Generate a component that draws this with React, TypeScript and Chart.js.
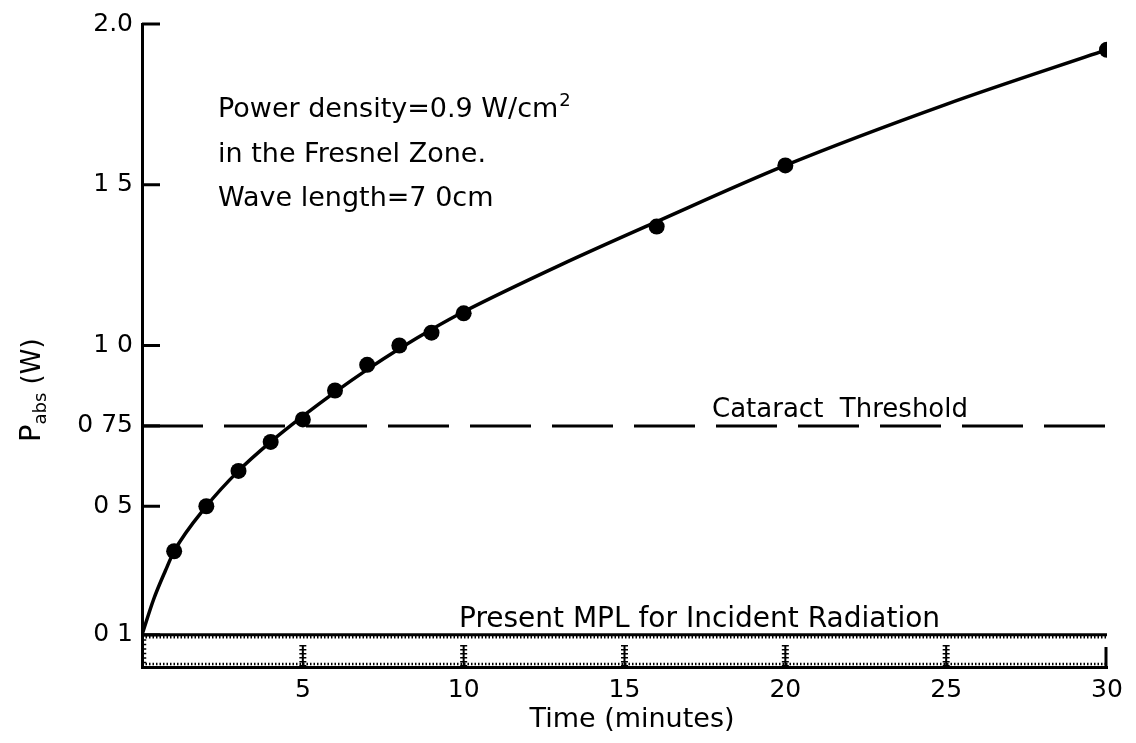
import React, { useEffect, useRef } from "react";
import { Chart, registerables } from "chart.js";

Chart.register(...registerables);

const TIME_MIN = [1, 2, 3, 4, 5, 6, 7, 8, 9, 10, 16, 20, 30];
const P_ABS_W = [0.36, 0.5, 0.61, 0.7, 0.77, 0.86, 0.94, 1.0, 1.04, 1.1, 1.37, 1.56, 1.92];
// ---- the drawn smooth curve at these times ----
const CURVE_TIME = [0, 0.36, 0.73, 1, 2, 3, 4, 5, 6, 7, 8, 9, 10, 13, 16, 20, 25, 30];
const CURVE_P = [0.1, 0.21, 0.3, 0.36, 0.5, 0.61, 0.7, 0.78, 0.855, 0.925, 0.99, 1.05, 1.105, 1.25, 1.385, 1.56, 1.75, 1.92];
const CATARACT_THRESHOLD = 0.75;
const PRESENT_MPL = 0.1;
const X_MIN = 0;
const X_MAX = 30;
const Y_MIN = 0;
const Y_MAX = 2.0;
const Y_TICKS = [0.1, 0.5, 0.75, 1.0, 1.5, 2.0];
const Y_TICK_LABELS = ["0 1", "0 5", "0 75", "1 0", "1 5", "2.0"];
const X_TICKS = [5, 10, 15, 20, 25, 30];
const X_TICK_LABELS = ["5", "10", "15", "20", "25", "30"];
const NOTE_LINES = ["Power density=0.9 W/cm", "in the Fresnel Zone.", "Wave length=7 0cm"];
const NOTE_SUP = "2";
const THRESHOLD_LABEL = "Cataract  Threshold";
const MPL_LABEL = "Present MPL for Incident Radiation";
const X_TITLE = "Time (minutes)";
const Y_TITLE_MAIN = "P";
const Y_TITLE_SUB = "abs";
const Y_TITLE_REST = " (W)";

const INK = "#000000";
const FONT = '"DejaVu Sans", sans-serif';

const decorPlugin = {
  id: "decor",
  afterDraw(chart: any) {
    const { ctx, chartArea: a, scales } = chart;
    const x = scales.x;
    const y = scales.y;
    ctx.save();
    ctx.strokeStyle = INK;
    ctx.fillStyle = INK;

    // inward y tick marks
    ctx.lineWidth = 3;
    ctx.setLineDash([]);
    for (const v of Y_TICKS) {
      const py = y.getPixelForValue(v);
      ctx.beginPath();
      ctx.moveTo(a.left, py);
      ctx.lineTo(a.left + 18, py);
      ctx.stroke();
    }

    // ruler band between MPL line and the x axis
    const yTop = y.getPixelForValue(PRESENT_MPL);
    const yBot = a.bottom;
    ctx.lineWidth = 2.5;
    ctx.setLineDash([1.5, 2]);
    ctx.beginPath();
    ctx.moveTo(a.left, yTop + 2.5);
    ctx.lineTo(a.right, yTop + 2.5);
    ctx.stroke();
    ctx.beginPath();
    ctx.moveTo(a.left, yBot - 3);
    ctx.lineTo(a.right, yBot - 3);
    ctx.stroke();
    ctx.setLineDash([1.5, 3]);
    ctx.beginPath();
    ctx.moveTo(a.left + 3, yTop);
    ctx.lineTo(a.left + 3, yBot);
    ctx.stroke();

    // major ticks (ladder style)
    for (const v of X_TICKS) {
      const px = x.getPixelForValue(v);
      if (v === X_MAX) {
        ctx.setLineDash([]);
        ctx.lineWidth = 3;
        ctx.beginPath();
        ctx.moveTo(px - 1, yBot - 20);
        ctx.lineTo(px - 1, yBot);
        ctx.stroke();
        continue;
      }
      ctx.setLineDash([]);
      ctx.lineWidth = 2;
      ctx.beginPath();
      ctx.moveTo(px, yBot - 22);
      ctx.lineTo(px, yBot);
      ctx.stroke();
      ctx.lineWidth = 7;
      ctx.setLineDash([1.5, 2.5]);
      ctx.beginPath();
      ctx.moveTo(px, yBot - 22);
      ctx.lineTo(px, yBot);
      ctx.stroke();
    }
    ctx.setLineDash([]);

    // annotation block
    ctx.textAlign = "left";
    ctx.textBaseline = "alphabetic";
    ctx.font = `27px ${FONT}`;
    const noteX = 218;
    const noteBase = [117, 162, 206];
    NOTE_LINES.forEach((t, i) => ctx.fillText(t, noteX, noteBase[i]));
    const w0 = ctx.measureText(NOTE_LINES[0]).width;
    ctx.font = `18px ${FONT}`;
    ctx.fillText(NOTE_SUP, noteX + w0 + 1, noteBase[0] - 11);

    // line labels
    ctx.font = `26px ${FONT}`;
    ctx.fillText(THRESHOLD_LABEL, 712, y.getPixelForValue(CATARACT_THRESHOLD) - 9);
    ctx.font = `28px ${FONT}`;
    ctx.fillText(MPL_LABEL, 459, y.getPixelForValue(PRESENT_MPL) - 8);

    // x title
    ctx.font = `27px ${FONT}`;
    ctx.textAlign = "center";
    ctx.fillText(X_TITLE, 632, 727);

    // y title (rotated, with subscript)
    ctx.save();
    ctx.translate(40, 442);
    ctx.rotate(-Math.PI / 2);
    ctx.textAlign = "left";
    ctx.font = `29px ${FONT}`;
    ctx.fillText(Y_TITLE_MAIN, 0, 0);
    let w = ctx.measureText(Y_TITLE_MAIN).width;
    ctx.font = `18px ${FONT}`;
    ctx.fillText(Y_TITLE_SUB, w, 6);
    w += ctx.measureText(Y_TITLE_SUB).width;
    ctx.font = `26px ${FONT}`;
    ctx.fillText(Y_TITLE_REST, w, 0);
    ctx.restore();

    ctx.restore();
  },
};

export default function App() {
  const ref = useRef<HTMLCanvasElement | null>(null);

  useEffect(() => {
    document.body.style.margin = "0";
    if (!ref.current) return;
    const pts = TIME_MIN.map((t, i) => ({ x: t, y: P_ABS_W[i] }));
    const curve = CURVE_TIME.map((t, i) => ({ x: t, y: CURVE_P[i] }));
    const chart = new Chart(ref.current, {
      type: "scatter",
      data: {
        datasets: [
          {
            label: "Cataract Threshold",
            data: [
              { x: X_MIN, y: CATARACT_THRESHOLD },
              { x: X_MAX, y: CATARACT_THRESHOLD },
            ],
            showLine: true,
            borderColor: INK,
            borderWidth: 3,
            borderDash: [61, 21],
            pointRadius: 0,
          },
          {
            label: "Present MPL",
            data: [
              { x: X_MIN, y: PRESENT_MPL },
              { x: X_MAX, y: PRESENT_MPL },
            ],
            showLine: true,
            borderColor: INK,
            borderWidth: 3,
            pointRadius: 0,
          },
          {
            label: "curve",
            data: curve,
            showLine: true,
            borderColor: INK,
            borderWidth: 3.5,
            cubicInterpolationMode: "monotone",
            pointRadius: 0,
          },
          {
            label: "P_abs",
            data: pts,
            showLine: false,
            backgroundColor: INK,
            borderColor: INK,
            borderWidth: 0,
            pointRadius: 8,
          },
        ],
      },
      options: {
        animation: false,
        responsive: false,
        events: [],
        layout: { padding: { left: 0, right: 29, top: 22, bottom: 0 } },
        plugins: {
          legend: { display: false },
          tooltip: { enabled: false },
        },
        scales: {
          x: {
            type: "linear",
            min: X_MIN,
            max: X_MAX,
            afterFit: (s: any) => {
              s.height = 76;
            },
            afterBuildTicks: (s: any) => {
              s.ticks = X_TICKS.map((v) => ({ value: v }));
            },
            grid: { display: false, drawTicks: false },
            border: { display: true, color: INK, width: 3 },
            ticks: {
              autoSkip: false,
              maxRotation: 0,
              padding: 8,
              color: INK,
              font: { family: FONT, size: 25 },
              callback: (v: any) => {
                const i = X_TICKS.indexOf(Number(v));
                return i >= 0 ? X_TICK_LABELS[i] : "";
              },
            },
          },
          y: {
            type: "linear",
            min: Y_MIN,
            max: Y_MAX,
            afterFit: (s: any) => {
              s.width = 142;
            },
            afterBuildTicks: (s: any) => {
              s.ticks = Y_TICKS.map((v) => ({ value: v }));
            },
            grid: { display: false, drawTicks: false },
            border: { display: true, color: INK, width: 3 },
            ticks: {
              autoSkip: false,
              padding: 9,
              color: INK,
              font: { family: FONT, size: 25 },
              callback: (v: any) => {
                const i = Y_TICKS.findIndex((t) => Math.abs(t - Number(v)) < 1e-9);
                return i >= 0 ? Y_TICK_LABELS[i] : "";
              },
            },
          },
        },
      },
      plugins: [decorPlugin],
    });
    return () => chart.destroy();
  }, []);

  return (
    <div style={{ width: 1136, height: 743, background: "#fff" }}>
      <canvas ref={ref} width={1136} height={743} style={{ display: "block" }} />
    </div>
  );
}
